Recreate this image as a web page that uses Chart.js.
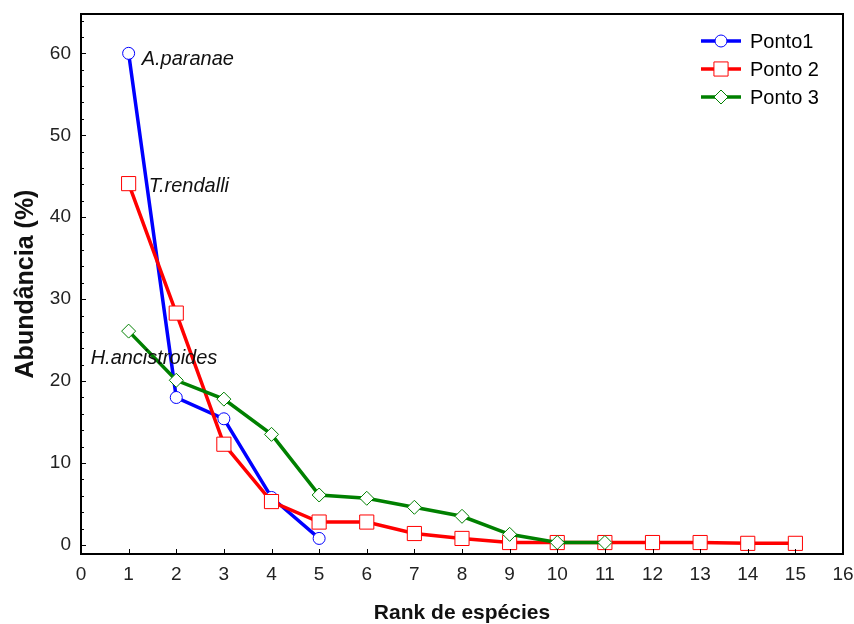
<!DOCTYPE html>
<html>
<head>
<meta charset="utf-8">
<script src="https://cdn.jsdelivr.net/npm/chart.js@4/dist/chart.umd.min.js"></script>
<style>
  html, body { margin: 0; padding: 0; background: #fff; }
  #wrap { width: 854px; height: 624px; }
</style>
</head>
<body>
<div id="wrap"><canvas id="chart"></canvas></div>
<script>
// ranks on the x axis
const ranks = [1, 2, 3, 4, 5, 6, 7, 8, 9, 10, 11, 12, 13, 14, 15];

// abundance (%) per rank for each site
const ponto1 = [60, 18.0, 15.4, 5.8, 0.8];
const ponto2 = [44.1, 28.3, 12.3, 5.3, 2.8, 2.8, 1.4, 0.8, 0.3, 0.3, 0.3, 0.3, 0.3, 0.2, 0.2];
const ponto3 = [26.1, 20.1, 17.8, 13.5, 6.1, 5.7, 4.6, 3.5, 1.3, 0.3, 0.3];

const seriesNames = ["Ponto1", "Ponto 2", "Ponto 3"];

// species names written next to the first rank of each site
const speciesLabels = ["A.paranae", "T.rendalli", "H.ancistroides"];

const xTicks = [0, 1, 2, 3, 4, 5, 6, 7, 8, 9, 10, 11, 12, 13, 14, 15, 16];
const yTicks = [0, 10, 20, 30, 40, 50, 60];
const yMinorTicks = [2, 4, 6, 8, 12, 14, 16, 18, 22, 24, 26, 28, 32, 34, 36, 38, 42, 44, 46, 48, 52, 54, 56, 58, 62, 64];

const FONT = "'Liberation Sans', Arial, sans-serif";

function toPoints(vals) {
    return vals.map((v, i) => ({ x: ranks[i], y: v }));
}

function drawMarker(ctx, style, x, y, r, color) {
    ctx.save();
    ctx.fillStyle = "#fff";
    ctx.strokeStyle = color;
    ctx.lineWidth = 1;
    ctx.beginPath();
    if (style === "circle") {
        ctx.arc(x, y, r, 0, Math.PI * 2);
    } else if (style === "rect") {
        const s = Math.SQRT1_2 * r;
        ctx.rect(x - s, y - s, 2 * s, 2 * s);
    } else {
        ctx.moveTo(x - r, y);
        ctx.lineTo(x, y - r);
        ctx.lineTo(x + r, y);
        ctx.lineTo(x, y + r);
        ctx.closePath();
    }
    ctx.fill();
    ctx.stroke();
    ctx.restore();
}

// frame, inward tick marks, legend and species labels
const decorations = {
    id: "decorations",
    afterDatasetsDraw(chart) {
        const { ctx, chartArea: a, scales: { x, y } } = chart;
        ctx.save();
        ctx.strokeStyle = "#000";
        ctx.lineWidth = 1;
        ctx.beginPath();
        xTicks.forEach(v => {
            const px = Math.round(x.getPixelForValue(v)) + 0.5;
            ctx.moveTo(px, a.bottom);
            ctx.lineTo(px, a.bottom - 5);
        });
        yTicks.forEach(v => {
            const py = Math.round(y.getPixelForValue(v)) + 0.5;
            ctx.moveTo(a.left, py);
            ctx.lineTo(a.left + 5, py);
        });
        yMinorTicks.forEach(v => {
            const py = Math.round(y.getPixelForValue(v)) + 0.5;
            ctx.moveTo(a.left, py);
            ctx.lineTo(a.left + 3, py);
        });
        ctx.stroke();

        ctx.lineWidth = 2;
        ctx.strokeRect(a.left, a.top, a.right - a.left, a.bottom - a.top);

        // species names
        ctx.fillStyle = "#111";
        ctx.font = "italic 20px " + FONT;
        ctx.textBaseline = "alphabetic";
        ctx.textAlign = "left";
        const anchors = [[0, 0, 13, 12], [1, 0, 20, 8], [2, 0, -38, 33]];
        anchors.forEach(([ds, idx, dx, dy], i) => {
            const p = chart.getDatasetMeta(ds).data[idx];
            ctx.fillText(speciesLabels[i], p.x + dx, p.y + dy);
        });

        // legend
        const rowY = [a.top + 27, a.top + 55, a.top + 83];
        chart.data.datasets.forEach((ds, i) => {
            const ly = rowY[i];
            const x0 = a.right - 142, x1 = a.right - 102;
            ctx.strokeStyle = ds.borderColor;
            ctx.lineWidth = 3.5;
            ctx.beginPath();
            ctx.moveTo(x0, ly);
            ctx.lineTo(x1, ly);
            ctx.stroke();
            drawMarker(ctx, ds.pointStyle, (x0 + x1) / 2, ly, ds.pointRadius, ds.borderColor);
            ctx.fillStyle = "#000";
            ctx.font = "20px " + FONT;
            ctx.textBaseline = "middle";
            ctx.fillText(ds.label, a.right - 93, ly + 1);
        });
        ctx.restore();
    }
};

new Chart(document.getElementById("chart"), {
    type: "line",
    data: {
        datasets: [
            {
                label: seriesNames[0],
                data: toPoints(ponto1),
                borderColor: "#0000ff",
                pointStyle: "circle",
                pointRadius: 6,
                order: 2
            },
            {
                label: seriesNames[1],
                data: toPoints(ponto2),
                borderColor: "#ff0000",
                pointStyle: "rect",
                pointRadius: 10,
                order: 1
            },
            {
                label: seriesNames[2],
                data: toPoints(ponto3),
                borderColor: "#008000",
                pointStyle: "rectRot",
                pointRadius: 7,
                order: 0
            }
        ].map(d => Object.assign({
            borderWidth: 3.5,
            tension: 0,
            pointBackgroundColor: "#fff",
            pointBorderColor: d.borderColor,
            pointBorderWidth: 1,
            pointHoverRadius: d.pointRadius
        }, d))
    },
    options: {
        responsive: true,
        maintainAspectRatio: false,
        animation: false,
        events: [],
        layout: { padding: { top: 14, right: 11, left: 0, bottom: 0 } },
        plugins: {
            legend: { display: false },
            tooltip: { enabled: false }
        },
        scales: {
            x: {
                type: "linear",
                min: 0,
                max: 16,
                afterBuildTicks: s => { s.ticks = xTicks.map(v => ({ value: v })); },
                afterFit: s => { s.height = 70; s.paddingLeft = 0; s.paddingRight = 0; },
                grid: { display: false, drawTicks: false },
                border: { display: false },
                ticks: {
                    padding: 9,
                    color: "#222",
                    font: { family: FONT, size: 19 },
                    maxRotation: 0
                },
                title: {
                    display: true,
                    text: "Rank de espécies",
                    color: "#111",
                    font: { family: FONT, size: 21, weight: "bold", lineHeight: 1 },
                    padding: { top: 0, bottom: 0 }
                }
            },
            y: {
                type: "linear",
                min: -1.1,
                max: 64.8,
                afterBuildTicks: s => { s.ticks = yTicks.map(v => ({ value: v })); },
                afterFit: s => { s.width = 81; s.paddingTop = 0; s.paddingBottom = 0; },
                grid: { display: false, drawTicks: false },
                border: { display: false },
                ticks: {
                    padding: 10,
                    color: "#222",
                    font: { family: FONT, size: 19 }
                },
                title: {
                    display: true,
                    text: "Abundância (%)",
                    color: "#111",
                    font: { family: FONT, size: 25, weight: "bold", lineHeight: 1 },
                    padding: { top: 14, bottom: 0 }
                }
            }
        }
    },
    plugins: [decorations]
});
</script>
</body>
</html>
